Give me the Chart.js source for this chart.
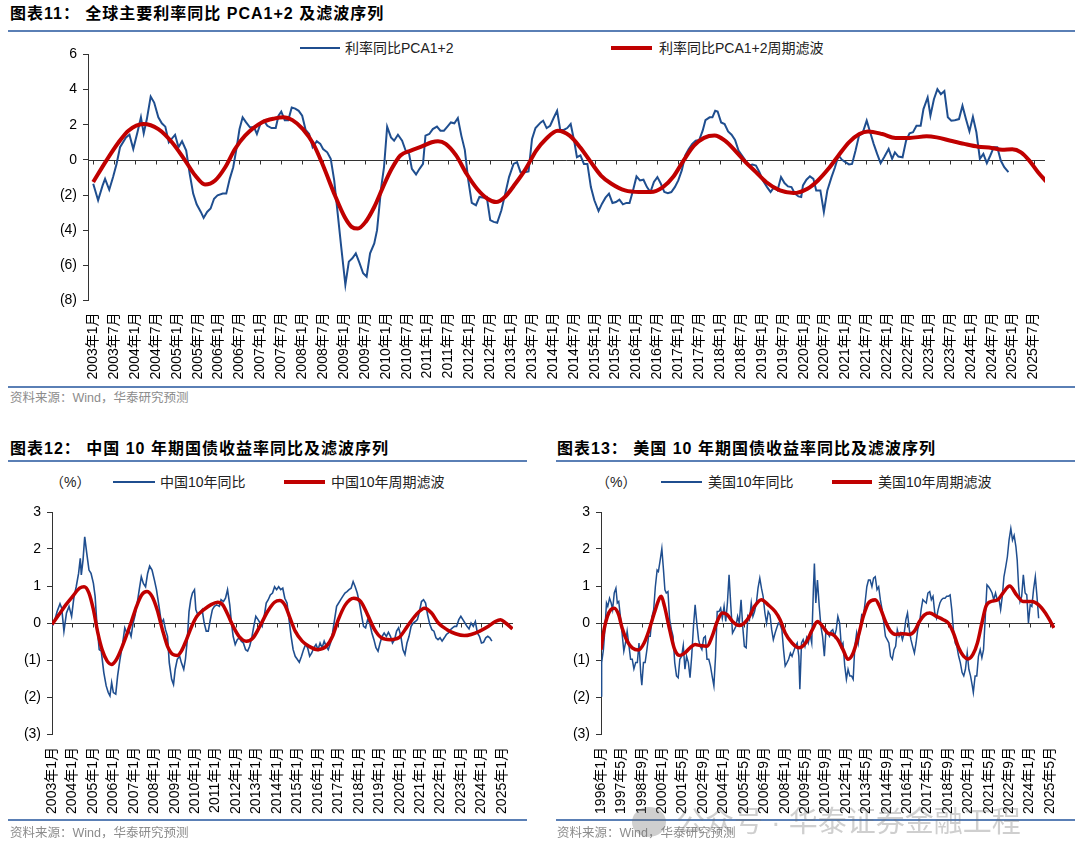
<!DOCTYPE html>
<html lang="zh-CN">
<head>
<meta charset="utf-8">
<title>利率同比及滤波序列</title>
<script src="https://cdn.jsdelivr.net/npm/chart.js@4.4.1/dist/chart.umd.min.js"></script>
<style>
  html, body { margin: 0; padding: 0; background: #fff; }
  body { width: 1080px; height: 862px; position: relative; overflow: hidden;
         font-family: 'Liberation Sans', 'Noto Sans CJK SC', sans-serif; }
  .title { position: absolute; font-family: 'Liberation Sans', 'Noto Sans CJK SC', sans-serif; font-weight: bold;
           font-size: 16px; letter-spacing: 1px; line-height: 20px; color: #000; white-space: nowrap; }
  .rule { position: absolute; height: 2px; background: #5a7fb5; }
  .source { position: absolute; font-size: 12.5px; color: #8c8c8c; white-space: nowrap; line-height: 16px; }
  .legend { position: absolute; font-size: 14px; color: #222; white-space: nowrap; line-height: 16px; }
  .sw { position: absolute; }
  .box { position: absolute; }
  .wm { position: absolute; font-size: 29px; color: rgba(110,110,110,0.33); white-space: nowrap; line-height: 34px; }
  .wmicon { position: absolute; width: 34px; height: 30px; border-radius: 50%; background: rgba(110,110,110,0.33); }
</style>
</head>
<body>

<!-- 图表11 -->
<div class="title" style="left:10px; top:4px;">图表11： 全球主要利率同比 PCA1+2 及滤波序列</div>
<div class="rule" style="left:8px; top:30px; width:1067px;"></div>
<div class="sw" style="left:300px; top:47px; width:40px; height:2px; background:#1f4e8f;"></div>
<div class="legend" style="left:345px; top:40px;">利率同比PCA1+2</div>
<div class="sw" style="left:611px; top:46px; width:41px; height:4px; background:#c00000;"></div>
<div class="legend" style="left:659px; top:40px;">利率同比PCA1+2周期滤波</div>
<div class="box" style="left:0; top:40px;"><canvas id="pcaChart" width="1080" height="345"></canvas></div>
<div class="rule" style="left:8px; top:386px; width:1067px;"></div>
<div class="source" style="left:10px; top:390px;">资料来源：Wind，华泰研究预测</div>

<!-- 图表12 -->
<div class="title" style="left:10px; top:439px;">图表12： 中国 10 年期国债收益率同比及滤波序列</div>
<div class="rule" style="left:8px; top:460px; width:519px;"></div>
<div class="legend" style="left:50px; top:474px;">（%）</div>
<div class="sw" style="left:113px; top:481px; width:42px; height:2px; background:#1f4e8f;"></div>
<div class="legend" style="left:160px; top:474px;">中国10年同比</div>
<div class="sw" style="left:284px; top:480px; width:41px; height:4px; background:#c00000;"></div>
<div class="legend" style="left:331px; top:474px;">中国10年周期滤波</div>
<div class="box" style="left:0; top:495px;"><canvas id="cnChart" width="540" height="325"></canvas></div>
<div class="rule" style="left:8px; top:819px; width:519px;"></div>
<div class="source" style="left:10px; top:825px;">资料来源：Wind，华泰研究预测</div>

<!-- 图表13 -->
<div class="title" style="left:557px; top:439px;">图表13： 美国 10 年期国债收益率同比及滤波序列</div>
<div class="rule" style="left:556px; top:460px; width:519px;"></div>
<div class="legend" style="left:596px; top:474px;">（%）</div>
<div class="sw" style="left:661px; top:481px; width:41px; height:2px; background:#1f4e8f;"></div>
<div class="legend" style="left:708px; top:474px;">美国10年同比</div>
<div class="sw" style="left:832px; top:480px; width:40px; height:4px; background:#c00000;"></div>
<div class="legend" style="left:878px; top:474px;">美国10年周期滤波</div>
<div class="box" style="left:548px; top:495px;"><canvas id="usChart" width="532" height="325"></canvas></div>
<div class="rule" style="left:556px; top:819px; width:519px;"></div>
<div class="source" style="left:557px; top:825px;">资料来源：Wind，华泰研究预测</div>

<!-- 水印 -->
<div class="wmicon" style="left:632px; top:807px;"></div>
<div class="wm" style="left:676px; top:805px;">公众号 · 华泰证券金融工程</div>

<script>
    // ---------- 图表11：全球主要利率同比 PCA1+2（月序号，自2003年1月起） ----------
    const pcaTickLabels = ['2003年1月','2003年7月','2004年1月','2004年7月','2005年1月','2005年7月','2006年1月','2006年7月',
        '2007年1月','2007年7月','2008年1月','2008年7月','2009年1月','2009年7月','2010年1月','2010年7月','2011年1月','2011年7月',
        '2012年1月','2012年7月','2013年1月','2013年7月','2014年1月','2014年7月','2015年1月','2015年7月','2016年1月','2016年7月',
        '2017年1月','2017年7月','2018年1月','2018年7月','2019年1月','2019年7月','2020年1月','2020年7月','2021年1月','2021年7月',
        '2022年1月','2022年7月','2023年1月','2023年7月','2024年1月','2024年7月','2025年1月','2025年7月'];

    const pcaMonths = [0,1.4,2.7,3.4,4.6,5.7,6.7,7.7,9.4,10.4, 11.5,12.7,13.7,14.5,15.4,16.5,17.5,18.7,19.7,20.7,
        21.7,23.5,24.5,25.5,26.7,27.7,28.7,29.7,30.9,31.7, 32.7,33.7,34.7,35.7,37.2,38.2,39.2,40.2,41.2,42,
        42.9,43.9,45,46.2,47,48,49,50,51.2,52.4, 53.2,54,55,56,57,58,59,60,61,62,
        63,64.2,65.2,66,67.2,68.2,69.2,70.2,71.2,72.4, 73.4,74.4,75.4,76.5,77.5,78.5,79.5,80.7,81.5,82.7,
        83.5,84.4,85.5,86.4,87.5,88.7,89.7,90.7,91.5,92.7, 93.7,94.7,95.4,96.5,97.5,98.7,99.7,100.7,101.7,102.7,
        103.7,104.7,105.7,106.7,107.7,108.7,109.9,110.9,112.2,113, 114,115,116,117.2,118.2,119.4,120.7,121.7,122.7,123.9,
        125, 126,127,128.5,129.2,130.2,131.2,132.2,133.2,134.1,135.1,
        136.1,137.1,138.1,138.9,139.9,140.9,141.9,142.9,143.9,145.1, 146.1,147.1,148.1,149.1,150.1,151.1,152.1,153.1,154,155,
        156,157,158,159,160,161,162,163,164,165, 166,167,168,169,170,171,172,173,174,175,
        175.8,177,177.8,178.6,179.3,180.3,181.3,182.3,183.3,184.3, 185.3,186.3,187.3,188.3,189.3,190.3,191.3,192.3,193.5,194.5,
        195.5,196.5,197.5,198.5,199.5,200.5,201.5,202.5,203.3,203.8, 204.8,205.8,206.8,207.6,208.8,209.8,210.8,212,213,214,
        215,216,217,217.9,218.9,219.9,220.9,222.1,223.1,224.1, 225.1,226.1,227.1,228.4,229.4,230.2,231.2,232.4,233.4,234.4,
        235.4,236.4,237.6,238.4,239.6,240.4,241.4,242.4,243.4,244.4, 245.4,246.4,247.4,248.6,249.6,250.6,251.6,252.6,253.6,254.6,
        255.6,256.6,257.6,258.6,259.6,260.6,261.6,262.8];
    const pcaValues = [-1.36,-2.3,-1.45,-1.08,-1.7,-0.98,-0.23,0.72,1.28,1.43, 0.62,1.57,2.42,1.51,2.32,3.6,3.26,2.42,2.08,1.89,
        1.0,1.43,0.72,1.06,0.53,-0.79,-1.92,-2.53,-2.96,-3.3, -2.96,-2.77,-2.21,-2.02,-1.92,-1.92,-1.08,-0.42,0.72,1.75,
        2.42,2.13,1.85,1.85,1.47,2.04,2.23,1.94,1.81,1.81, 2.51,2.75,2.26,2.26,2.98,2.92,2.79,2.51,1.7,1.47,
        0.72,1.06,0.91,0.62,0.43,0.06,-1.17,-3.06,-4.94,-7.11, -5.79,-5.6,-5.32,-5.89,-6.45,-6.64,-5.32,-4.75,-4.0,-1.55,
        -0.42,1.89,1.28,1.09,1.43,1.09,0.53,0.34,-0.51,-0.83, -0.51,-0.23,1.38,1.47,1.75,1.89,1.66,1.66,1.89,2.13,
        2.08,2.38,1.38,0.57,-1.17,-2.45,-2.58,-2.11,-2.15,-2.11, -3.43,-3.53,-3.58,-2.87,-2.02,-0.98,-0.23,-0.13,-0.7,-0.7,
        -0.66, 1.19,1.81,2.13,2.23,1.81,1.94,2.38,2.79,1.7,1.7,
        1.81,2.04,1.09,0.15,0.25,-0.23,-0.23,-1.55,-2.3,-2.91, -2.49,-2.15,-1.92,-2.45,-2.4,-2.26,-2.53,-2.45,-2.45,-1.74,
        -0.94,-1.17,-1.13,-1.55,-1.83,-1.26,-0.98,-1.36,-1.83,-1.89, -1.83,-1.55,-1.17,-0.6,0.25,0.62,0.91,1.09,1.13,1.66,
        2.26,2.42,2.42,2.79,2.75,2.13,2.04,1.62,1.43,1.13, 0.53,0.25,-0.04,-0.32,-0.26,-0.32,-0.7,-1.17,-1.55,-1.83,
        -1.55,-1.74,-0.98,-1.32,-1.51,-1.55,-1.92,-2.08,-2.11,-1.45, -1.13,-0.94,-1.08,-1.74,-1.74,-2.96,-1.74,-0.98,-0.42,0.25,
        0.0,-0.13,-0.26,-0.23,0.53,1.38,1.51,2.23,1.57,0.91, 0.34,-0.19,0.15,0.62,0.06,0.43,0.19,0.15,1.09,1.51,
        1.57,1.94,1.94,2.89,3.55,2.51,3.45,4.02,3.74,3.92, 2.42,2.23,2.26,2.32,3.08,2.32,1.62,2.45,1.57,0.06,
        0.34,-0.19,0.25,0.72,0.72,-0.04,-0.42,-0.7];

    const pcaFilterMonths = [0,3.9,7.3,10.1,14.4,18.7,22.6,26.4,29.3,32.1, 35,37.9,40.7,43.6,48.4,
        52.2,54.7,57.2,60.2,63.2,66.2,69.2,72.2,74.2,76, 78.2,80.7,83.2,85.7,88.2,91.2,94.2,97.2,99,101.2,
        104.2,107.2,110.2,113.2,115.7,118.2,121.2,124.2,127.2,130, 133.4,136.8,139.8,142.9,145.8,148.8,152.7,156.7,160.1,163.6,
        166.5,169.5,172.5,175.4,178.4,181.4,184.3,187.3,190.3,193.2, 197.2,201.1,205.1,208.1,211.1,214,217,220,222.5,226.6,
        230.4,234.4,239.3,242.2,246.2,250.1,254.1,258,261,263.9, 266.4,268.8,271.3,273.8];
    const pcaFilterValues = [-1.26,0,1.0,1.66,2.04,1.75,1.0,-0.04,-0.89,-1.40, -1.17,-0.42,0.62,1.38,2.13,
        2.36,2.42,2.26,1.75,0.91,-0.42,-1.92,-3.25,-3.81,-3.91, -3.53,-2.68,-1.55,-0.51,0.25,0.53,0.75,1.0,1.06,0.91,
        0.25,-0.79,-1.64,-2.21,-2.4,-2.11,-1.36,-0.51,0.53,1.19, 1.66,1.38,0.72,-0.13,-0.89,-1.36,-1.74,-1.83,-1.83,-1.55,
        -0.98,-0.04,0.81,1.25,1.38,1.09,0.53,-0.13,-0.7,-1.26, -1.74,-1.89,-1.64,-1.17,-0.51,0.25,1.0,1.47,1.62,1.47,
        1.25,1.25,1.34,1.28,1.09,0.91,0.75,0.68,0.57,0.6, 0.43,-0.04,-0.7,-1.26];

    // ---------- 图表12：中国10年期国债（月序号，自2003年1月起） ----------
    const cnTickLabels = ['2003年1月','2004年1月','2005年1月','2006年1月','2007年1月','2008年1月','2009年1月','2010年1月',
        '2011年1月','2012年1月','2013年1月','2014年1月','2015年1月','2016年1月','2017年1月','2018年1月','2019年1月','2020年1月',
        '2021年1月','2022年1月','2023年1月','2024年1月','2025年1月'];

    const cnMonths = [0,1.4,3,4.7,5.7,7,8.5,10,11.5,12.8, 14.2,15.6,16.6,17.2,18.2,19.2,20.4,21.7,22.9,24.3,
        25.3,26.3,27.7,28.9,30.4,31.8,33,34,35,36, 37.4,38.5,39.9,41.5,42.7,43.9,45.1,46.4,47.6,48.8,
        50,51.2,52.4,53.6,54.9,56.1,57.3,58.7,60.1,61.3, 62.8,64.2,65.4,66.6,67.8,68.8,70.2,71.3,72.3,73.5,
        74.9,75.9,77.3,78.3,79.4,80.4,81.4,82.4,83.6,84.4, 85.6,86.8,88.1,89.3,90.5,91.7,92.9,94.1,95.3,96.6,
        98.2,99.2,100.6,101.8,103,104.3,105.3,106.3,107.5,108.7, 109.9,111.1,112.3,113.6,114.8,116,117.2,118.4,119.6,120.9,
        122.1,123.3,124.5,125.7,126.9,128.1,129.4,130.6,131.8,133, 134.2,135.4,136.6,137.9,139.1,140.3,141.5,142.7,143.9,145.1,
        146.4,147.6,148.8,150,151.2,152.4,153.6,154.9,156.1,157.3, 158.5,159.7,160.9,162.1,163.4,164.6,165.8,167,168.2,169.4,
        170.6,171.9,173.1,174.3,175.5,176.7,177.9,179.1,180.4,181.6, 182.8,184,185.2,186.4,187.7,188.9,190.1,191.3,192.5,193.7,
        194.9,196.2,197.4,198.6,199.8,201,202.2,203.4,204.7,205.9, 207.1,208.3,209.5,210.7,211.9,213.2,214.4,215.6,216.8,218,
        219.2,220.4,221.7,222.9,224.1,225.3,226.5,227.7,228.9,230.2, 231.4,232.6,233.8,235,236.2,237.4,238.7,239.9,241.1,242.3,
        243.5,244.7,245.9,247.2,248.4,249.6,250.8,252,253.2,254.5, 255.7,256.9,258.1];
    const cnValues = [-0.09,0.04,0.31,0.52,0.40,-0.22,0.27,0.45,0.18,0.67, 0.98,1.34,1.75,1.30,1.70,2.33,1.88,1.43,1.34,1.07,
        0.72,0.0,-0.72,-0.76,-1.34,-1.70,-1.88,-1.97,-1.61,-1.88, -1.92,-1.43,-0.98,-0.54,-0.13,-0.27,-0.18,-0.36,0.0,0.22,
        0.54,0.90,1.25,1.07,0.98,1.34,1.54,1.43,1.16,0.90, 0.45,0.0,0.09,-0.18,-0.36,-1.07,-1.52,-1.66,-1.25,-0.98,
        -0.90,-1.07,-1.25,-0.98,-0.45,0.31,0.63,0.81,0.90,0.36, 0.22,0.27,0.36,0.0,-0.22,-0.22,0.09,0.36,0.45,0.49,
        0.45,0.63,0.58,0.67,0.90,0.49,0.0,-0.36,-0.58,-0.45, -0.40,-0.49,-0.54,-0.72,-0.76,-0.63,-0.40,-0.09,0.18,0.09,
        0.0,-0.09,0.18,0.54,0.63,0.76,0.81,0.98,0.90,0.98, 0.90,0.94,0.67,0.54,0.09,-0.36,-0.72,-0.90,-0.98,-1.06,
        -0.90,-0.72,-0.58,-0.67,-0.90,-0.81,-0.67,-0.58,-0.72,-0.54, -0.67,-0.49,-0.63,-0.72,-0.54,-0.27,0.09,0.45,0.54,0.63,
        0.72,0.81,0.85,0.90,0.94,1.12,0.98,0.81,0.54,0.22, -0.09,-0.13,0.09,0.0,-0.27,-0.45,-0.67,-0.76,-0.54,-0.36,
        -0.27,-0.36,-0.25,-0.36,-0.54,-0.45,-0.22,-0.13,-0.36,-0.72, -0.85,-0.54,-0.36,-0.09,0.0,0.04,0.09,0.31,0.58,0.63,
        0.54,0.22,-0.04,-0.18,-0.22,-0.40,-0.45,-0.40,-0.49,-0.40, -0.31,-0.27,-0.18,-0.13,-0.09,-0.09,0.09,0.18,0.09,0.0,
        -0.09,-0.16,0.0,-0.09,0.04,-0.27,-0.36,-0.54,-0.52,-0.40, -0.36,-0.40,-0.49];

    const cnFilterMonths = [0,4,8.1,12.1,16.2,18.8,21.7,24.3,26.9,29.4, 32.4,35,37.9,40.5,43.5,46.6,49.6,52.6,55.7,58.7,
        61.7,64.8,67.8,70.9,73.5,75.9,78.9,82,85,89.1, 93.1,97.2,100.2,103.2,106.3,109.7,114,118,122.5,126.5,
        130.6,133.6,136.6,139.7,142.7,146.8,150.8,155.9,160.9,164.6, 168,172.1,177.1,181.2,185.2,189.3,193.3,198.4,203.4,208.5,
        213.6,218.6,222.7,226.7,231.8,236.8,241.9,245.9,251,256.1, 260.1,263.2,266.2,270.2];
    const cnFilterValues = [-0.04,0.22,0.49,0.72,0.94,0.98,0.81,0.36,-0.27,-0.72, -1.03,-1.12,-0.98,-0.72,-0.36,0.04,0.45,0.76,0.85,0.72,
        0.36,-0.18,-0.63,-0.85,-0.88,-0.76,-0.45,-0.09,0.18,0.36, 0.49,0.56,0.49,0.22,-0.09,-0.36,-0.49,-0.40,-0.04,0.31,
        0.56,0.61,0.49,0.13,-0.22,-0.49,-0.63,-0.72,-0.63,-0.36, 0.09,0.49,0.67,0.58,0.22,-0.18,-0.40,-0.45,-0.40,-0.09,
        0.22,0.40,0.27,0.0,-0.18,-0.29,-0.34,-0.31,-0.22,-0.09, 0.04,0.09,0.0,-0.16];

    // ---------- 图表13：美国10年期国债（月序号，自1996年1月起） ----------
    const usTickLabels = ['1996年1月','1997年5月','1998年9月','2000年1月','2001年5月','2002年9月','2004年1月','2005年5月',
        '2006年9月','2008年1月','2009年5月','2010年9月','2012年1月','2013年5月','2014年9月','2016年1月','2017年5月','2018年9月',
        '2020年1月','2021年5月','2022年9月','2024年1月','2025年5月'];

    const usMonths = [0,0.5,1.9,3.2,4.3,5.3,6.7,8,9.1,10.4, 11.7,12.8,13.9,15.2,16.5,17.9,19.2,20.5,21.8,23.2,
        24.5,25.8,27.2,28.5,29.8,31.2,32,33.3,34.6,36, 37.3,38.6,40,41.3,42.6,44,45,46.4,47.7,49,
        50.1,51.2,52.5,53.8,55.2,56.5,57.8,59.2,60.5,61.8, 63.2,64.5,65.8,67.1,68.5,69.8,71.1,72.5,73.8,75.1,
        76.5,77.8,79.1,80.5,81.8,83.1,84.5,85.8,87.1,88.5, 89.8,91.1,92.5,93.8,95.1,96.5,97.8,99.1,100.4,101.8,
        103.1,104.5,105.8,107.1,108.4,109.8,111.1,112.4,113.8,115.1, 116.4,117.8,119.1,120.4,121.8,123.1,124.5,125.8,127.1,128.5,
        129.8,131.1,132.5,133.8,135.1,136.5,137.8,139.1,140.4,141.8, 143.1,144.4,145.8,147.1,148.5,149.8,151.1,152.5,153.8,155.1,
        155.9,157.2,158.5,159.9,161.2,162.5,163.9,165.2,166.5,167.3, 168.4,169.7,171.1,172.4,173.7,175.1,176.4,177.7,179.1,180.4,
        181.7,183.1,184.4,185.7,187.1,188.4,189.7,191.1,192.4,193.7, 195.1,196.4,197.7,199,200.4,201.7,203,204.4,205.7,207,
        208.4,209.7,211,212.4,213.7,215,216.4,217.7,219,220.4, 221.7,223,224.4,225.7,227,228.4,229.7,231,232.3,233.7,
        235,236.3,237.7,239,240.3,241.7,243,244.3,245.7,247, 248.3,249.7,251,252.3,253.7,255,256.3,257.7,259,260.3,
        261.7,263,264.3,265.7,267,268.3,269.7,271,272.3,273.7, 275,276.3,277.7,279,280.4,281.7,283.1,284.4,285.7,287.1,
        288.4,289.7,291.1,291.9,293.3,294.6,295.9,297.3,298.6,299.9, 301.3,302.6,303.9,305.3,306.6,307.9,309.3,310.6,311.9,313.3,
        314.6,315.9,317.3,318.6,319.9,321.3,322.6,323.9,325.3,326.3, 327.4,328.5,329.8,331.1,332.5,333.8,335.1,336.5,337.8,339.1,
        340.5,341.8,343.1];
    const usValues = [-1.97,-1.07,-0.72,-0.09,0.54,0.45,0.67,0.54,0.36,0.81, 0.94,0.54,0.58,0.18,-0.27,-0.76,-0.54,-0.22,-0.58,-0.98,
        -0.98,-1.24,-1.07,-1.07,-0.54,-1.39,-1.68,-1.07,-1.07,-0.72, -0.36,-0.36,0.18,0.36,0.98,1.43,1.39,1.70,2.01,1.43,
        0.90,0.81,0.85,0.09,-0.18,-0.36,-1.07,-1.43,-1.48,-0.98, -0.90,-0.61,-1.25,-0.90,-1.07,-1.48,-0.90,-0.09,0.49,0.0,
        -0.45,-0.63,-0.72,-0.40,-0.36,-0.98,-0.98,-1.16,-1.43,-1.70, -0.90,0.31,0.31,0.40,0.13,0.45,0.04,0.54,1.30,0.45,
        -0.27,-0.18,-0.09,0.18,0.0,0.63,-0.09,-0.63,-0.67,0.18, 0.09,0.54,0.18,0.31,0.54,0.94,1.21,0.94,0.72,0.27,
        0.0,0.31,0.22,-0.18,-0.45,-0.27,-0.13,0.0,-0.04,-0.18, -0.72,-1.16,-1.07,-0.98,-0.81,-0.90,-0.76,-0.63,-0.54,-0.90,
        -1.79,-0.54,-0.45,-0.63,-0.40,-0.54,-0.31,-0.54,0.90,1.61, 0.54,1.16,0.45,-0.09,-0.36,-0.90,-0.18,-0.27,-0.36,-0.22,
        -0.18,-0.36,-0.18,0.18,0.0,-0.63,-0.54,-1.16,-1.52,-1.25, -1.43,-1.43,-1.52,-0.63,-0.27,-0.54,-0.18,0.22,0.18,0.54,
        0.98,1.16,1.16,0.98,1.21,1.25,0.90,0.98,0.63,0.36, 0.0,-0.36,-0.45,-0.54,-0.90,-0.98,-0.72,-0.63,-0.18,-0.36,
        -0.27,-0.45,-0.27,0.09,0.27,-0.18,-0.45,-0.63,-0.81,-0.54, -0.18,0.0,0.36,0.63,0.58,0.54,0.81,0.85,0.63,0.72,
        0.27,0.13,0.36,0.54,0.63,0.67,0.67,0.72,0.72,0.76, 0.36,-0.18,-0.54,-0.63,-0.90,-1.07,-1.34,-1.43,-1.25,-0.81,
        -1.25,-1.43,-1.70,-1.88,-1.43,-1.43,-0.90,-0.72,-0.94,-0.72, 0.18,1.03,0.98,0.90,0.81,0.63,0.81,0.63,0.67,0.36,
        0.72,1.25,1.52,1.79,2.24,2.55,2.24,2.37,2.06,1.70, 0.98,0.58,0.72,1.30,0.81,0.76,0.0,0.49,0.45,0.90,
        1.25,0.72,0.13];

    const usFilterMonths = [0,2.4,5,7.7,10.4,13.9,16.5,20.5,24.5,29.3, 33.8,37.8,41.8,45.8,47.2,49.8,53.8,57.8,61.8,65.8,
        69.8,73.8,77.8,83.1,87.1,91.1,95.1,99.1,103.1,108.4, 112.4,116.4,120.4,125.8,131.1,136.5,140.4,144.4,149.8,155.1,
        160.4,165.7,169.7,173.7,177.7,181.7,185.7,189.7,193.7,197.7, 201.7,205.7,209.7,215,219,223,227,231,236.3,241.7,
        245.7,249.7,253.7,257.7,263,268.3,272.3,276.3,280.4,284.4, 287.8,291.6,295.1,298.6,301.8,305.8,311.1,315.1,320.4,325.8,
        331.1,337.8,343.1,348.4,352.4,355];
    const usFilterValues = [-0.72,-0.18,0.18,0.36,0.40,0.22,-0.13,-0.49,-0.67,-0.73, -0.54,-0.18,0.27,0.67,0.72,0.45,-0.18,-0.72,-0.88,-0.81,
        -0.67,-0.58,-0.61,-0.63,-0.36,0.04,0.27,0.22,0.04,-0.07, 0.0,0.18,0.45,0.63,0.49,0.31,0.09,-0.27,-0.54,-0.67,
        -0.54,-0.18,0.04,-0.09,-0.27,-0.31,-0.45,-0.72,-0.98,-0.81, -0.36,0.18,0.54,0.63,0.40,0.04,-0.22,-0.31,-0.29,-0.31,
        -0.22,0.04,0.22,0.27,0.18,0.09,0.0,-0.27,-0.67,-0.90, -0.97,-0.85,-0.54,0.0,0.45,0.58,0.63,0.81,1.0,0.76,
        0.58,0.58,0.49,0.27,0.04,-0.13];

    const blueColor = '#1f4e8f';
    const redColor = '#c00000';
    const tickFont = { family: "'Liberation Sans', 'Noto Sans CJK SC', sans-serif", size: 14 };

    // "2003年7月" -> 自起始年1月起的月序号
    function monthIndex(label, startYear) {
        const m = label.match(/(\d{4})年(\d{1,2})月/);
        return (Number(m[1]) - startYear) * 12 + (Number(m[2]) - 1);
    }

    function toPoints(xs, ys) {
        const n = Math.min(xs.length, ys.length);
        const pts = [];
        for (let i = 0; i < n; i++) pts.push({ x: xs[i], y: ys[i] });
        return pts;
    }

    // 负数用括号表示
    function fmtY(v) {
        return v < 0 ? '(' + (-v) + ')' : String(v);
    }

    // 零轴线和其上的刻度
    const zeroLinePlugin = {
        id: 'zeroLine',
        beforeDatasetsDraw(chart) {
            const { ctx, chartArea, scales } = chart;
            const y0 = Math.round(scales.y.getPixelForValue(0)) + 0.5;
            ctx.save();
            ctx.strokeStyle = '#333';
            ctx.lineWidth = 1;
            ctx.beginPath();
            ctx.moveTo(chartArea.left, y0);
            ctx.lineTo(chartArea.right, y0);
            scales.x.ticks.forEach(t => {
                const x = Math.round(scales.x.getPixelForValue(t.value)) + 0.5;
                ctx.moveTo(x, y0);
                ctx.lineTo(x, y0 + 4);
            });
            ctx.stroke();
            ctx.restore();
        }
    };

    function makeChart(id, o) {
        const tickValues = o.tickLabels.map(l => monthIndex(l, o.startYear));
        return new Chart(document.getElementById(id), {
            type: 'line',
            data: {
                datasets: [{
                    label: o.blueName,
                    data: toPoints(o.blueX, o.blueY),
                    borderColor: blueColor,
                    borderWidth: o.blueWidth,
                    pointRadius: 0,
                    tension: 0,
                    order: 1
                }, {
                    label: o.redName,
                    data: toPoints(o.redX, o.redY),
                    borderColor: redColor,
                    borderWidth: o.redWidth,
                    pointRadius: 0,
                    cubicInterpolationMode: 'monotone',
                    order: 0
                }]
            },
            options: {
                responsive: false,
                animation: false,
                layout: { padding: o.padding },
                plugins: {
                    legend: { display: false },
                    tooltip: { enabled: false }
                },
                scales: {
                    x: {
                        type: 'linear',
                        min: o.xMin,
                        max: o.xMax,
                        border: { display: false },
                        grid: { display: false, drawTicks: false },
                        afterBuildTicks: scale => { scale.ticks = tickValues.map(v => ({ value: v })); },
                        afterFit: scale => { scale.height = 80; },
                        ticks: {
                            autoSkip: false,
                            maxRotation: 90,
                            minRotation: 90,
                            padding: o.labelGap,
                            color: '#000',
                            font: tickFont,
                            callback: (v, i) => o.tickLabels[i]
                        }
                    },
                    y: {
                        min: o.yMin,
                        max: o.yMax,
                        border: { display: true, color: '#333' },
                        grid: { drawOnChartArea: false, drawTicks: true, tickLength: 5, color: '#333' },
                        afterFit: scale => { scale.width = o.axisWidth; },
                        ticks: { stepSize: o.yStep, padding: 6, color: '#000', font: tickFont, callback: fmtY }
                    }
                }
            },
            plugins: [zeroLinePlugin]
        });
    }

    makeChart('pcaChart', {
        tickLabels: pcaTickLabels, startYear: 2003, xMin: -1.5, xMax: 273.3,
        blueName: '利率同比PCA1+2', blueX: pcaMonths, blueY: pcaValues, blueWidth: 2,
        redName: '利率同比PCA1+2周期滤波', redX: pcaFilterMonths, redY: pcaFilterValues, redWidth: 4,
        yMin: -8, yMax: 6, yStep: 2, axisWidth: 88, labelGap: 12,
        padding: { top: 13.5, right: 35, bottom: 4.5, left: 0 }
    });

    makeChart('cnChart', {
        tickLabels: cnTickLabels, startYear: 2003, xMin: 0, xMax: 270.5,
        blueName: '中国10年同比', blueX: cnMonths, blueY: cnValues, blueWidth: 1.6,
        redName: '中国10年周期滤波', redX: cnFilterMonths, redY: cnFilterValues, redWidth: 3.5,
        yMin: -3, yMax: 3, yStep: 1, axisWidth: 52, labelGap: 13,
        padding: { top: 17, right: 27, bottom: 6, left: 0 }
    });

    makeChart('usChart', {
        tickLabels: usTickLabels, startYear: 1996, xMin: 0, xMax: 356,
        blueName: '美国10年同比', blueX: usMonths, blueY: usValues, blueWidth: 1.5,
        redName: '美国10年周期滤波', redX: usFilterMonths, redY: usFilterValues, redWidth: 3.5,
        yMin: -3, yMax: 3, yStep: 1, axisWidth: 53, labelGap: 13,
        padding: { top: 17, right: 19, bottom: 6, left: 0 }
    });
</script>
</body>
</html>
